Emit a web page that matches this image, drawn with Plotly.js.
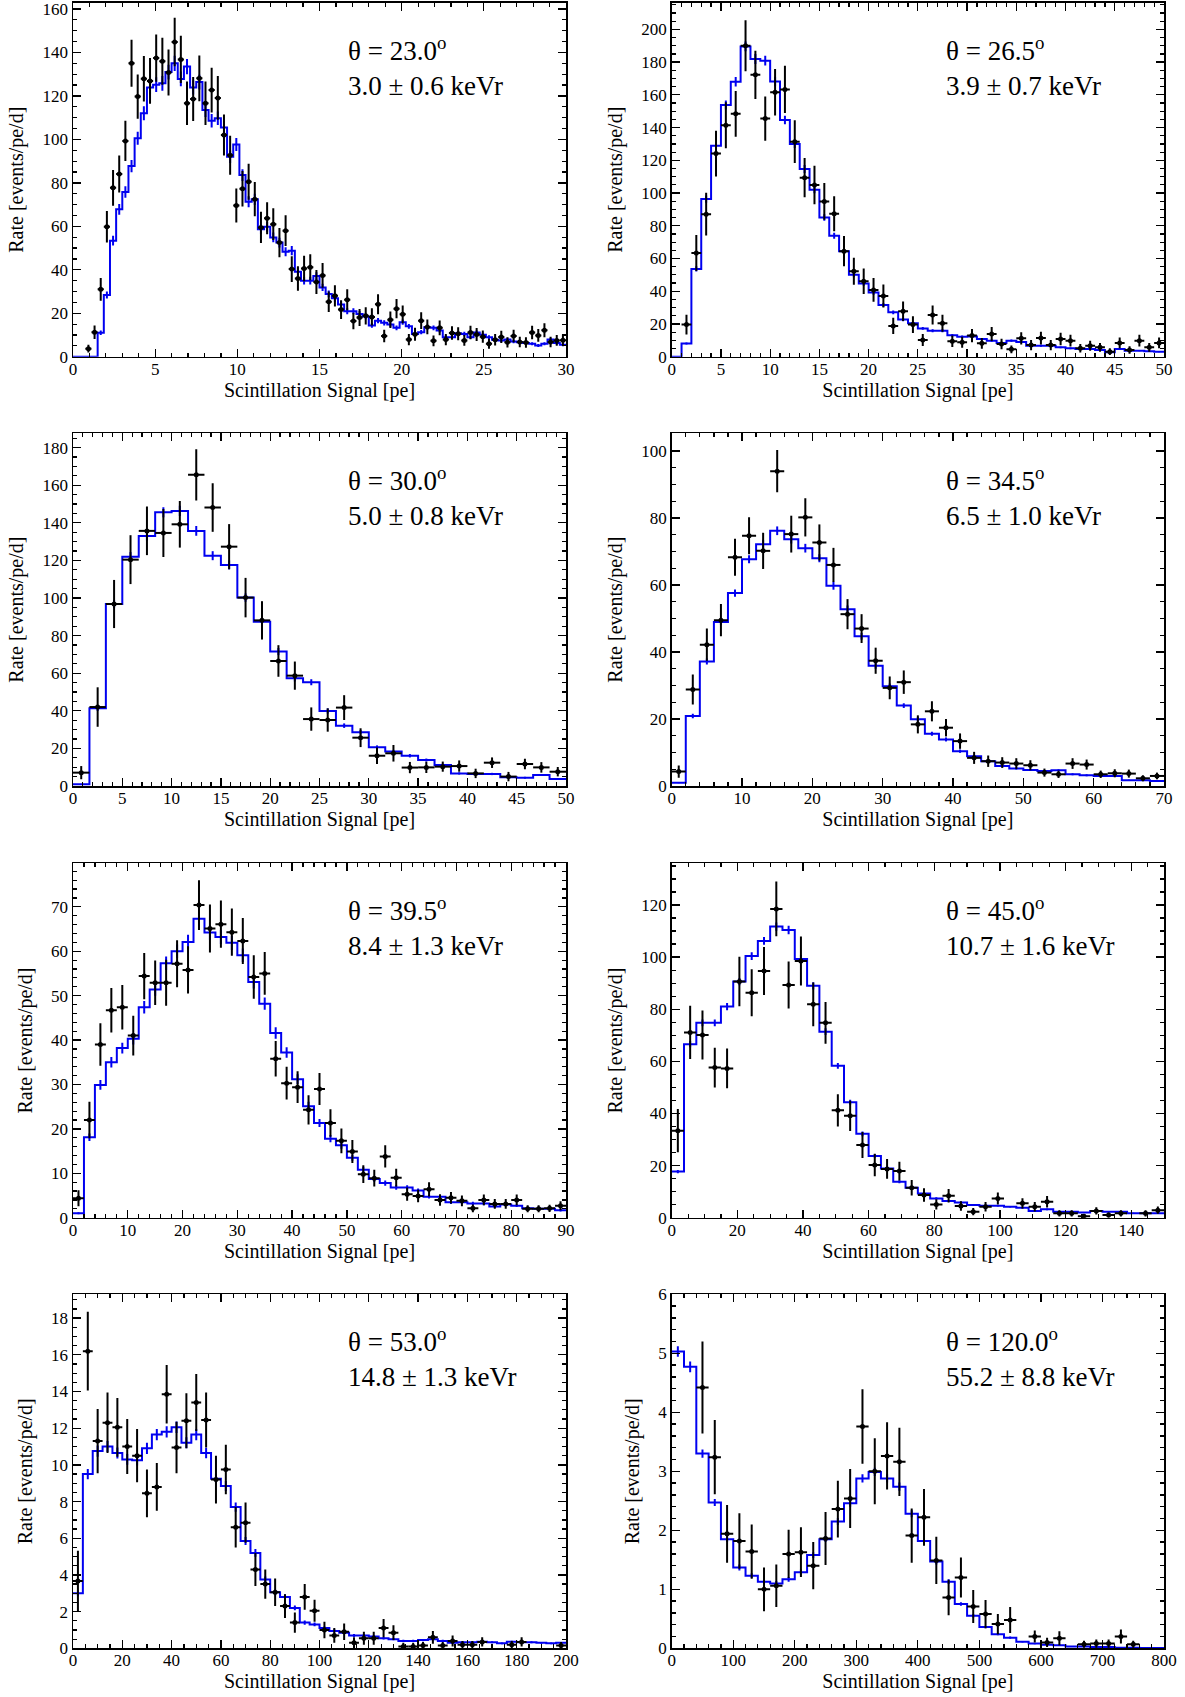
<!DOCTYPE html>
<html>
<head>
<meta charset="utf-8">
<script src="https://cdn.plot.ly/plotly-3.0.1.min.js"></script>
<style>html,body{margin:0;padding:0;background:#fff;}</style>
</head>
<body>
<div id="chart" style="width:1185px;height:1697px;"></div>
<script>
// ---------------- DATA ----------------
const angles = ['23.0', '26.5', '30.0', '34.5', '39.5', '45.0', '53.0', '120.0'];
const energies = ['3.0 ± 0.6', '3.9 ± 0.7', '5.0 ± 0.8', '6.5 ± 1.0', '8.4 ± 1.3', '10.7 ± 1.6', '14.8 ± 1.3', '55.2 ± 8.8'];
const xTitle = 'Scintillation Signal [pe]';
const yTitle = 'Rate [events/pe/d]';

// Panel 1: theta = 23.0
const p1Edges = [0, 0.375, 0.75, 1.125, 1.5, 1.875, 2.25, 2.625, 3, 3.375, 3.75, 4.125, 4.5, 4.875, 5.25, 5.625, 6, 6.375, 6.75, 7.125, 7.5, 7.875, 8.25, 8.625, 9, 9.375, 9.75, 10.125, 10.5, 10.875, 11.25, 11.625, 12, 12.375, 12.75, 13.125, 13.5, 13.875, 14.25, 14.625, 15, 15.375, 15.75, 16.125, 16.5, 16.875, 17.25, 17.625, 18, 18.375, 18.75, 19.125, 19.5, 19.875, 20.25, 20.625, 21, 21.375, 21.75, 22.125, 22.5, 22.875, 23.25, 23.625, 24, 24.375, 24.75, 25.125, 25.5, 25.875, 26.25, 26.625, 27, 27.375, 27.75, 28.125, 28.5, 28.875, 29.25, 29.625, 30];
const p1Model = [0, 0, 0, 0, 11, 28.4, 53.4, 67.8, 75.8, 87.7, 100.5, 112, 123.9, 125.2, 125.8, 131, 135, 127.8, 133.5, 123.9, 126.4, 113.5, 108.6, 109.7, 105.5, 92, 97.6, 83.6, 71.3, 72.4, 58.6, 59.8, 54.9, 52.5, 48.3, 48.8, 39.1, 35, 35, 37.1, 31.9, 28.9, 26.9, 24, 20.9, 20.9, 19.7, 18.5, 14.4, 16.6, 15.6, 14.8, 13.3, 15.9, 14, 10.4, 11.3, 13.6, 13.3, 12.1, 9, 9, 10.8, 10.5, 9, 11.1, 10.1, 9, 7.8, 7.5, 7.9, 7, 6.7, 6.3, 6, 5.2, 6, 7.9, 6.3, 5.5];
const p1ModelErr = [0, 0, 0, 0, 1.0, 1.6, 2.2, 2.5, 2.6, 2.8, 3.0, 3.2, 3.3, 3.4, 3.4, 3.4, 3.5, 3.4, 3.5, 3.3, 3.4, 3.2, 3.1, 3.1, 3.1, 2.9, 3.0, 2.7, 2.5, 2.6, 2.3, 2.3, 2.2, 2.2, 2.1, 2.1, 1.9, 1.8, 1.8, 1.8, 1.7, 1.6, 1.6, 1.5, 1.4, 1.4, 1.3, 1.3, 1.1, 1.2, 1.2, 1.2, 1.1, 1.2, 1.1, 1.0, 1.0, 1.1, 1.1, 1.0, 0.9, 0.9, 1.0, 1.0, 0.9, 1.0, 1.0, 0.9, 0.8, 0.8, 0.8, 0.8, 0.8, 0.8, 0.7, 0.7, 0.7, 0.8, 0.8, 0.7];
const p1Rate = [null, null, 3.7, 11.2, 31, 59.8, 77.7, 84.1, 99.3, 135, 119.7, 127.9, 126.9, 137.4, 136, 130.8, 144.8, 136.8, 116.6, 118.6, 128.1, 116.6, 122.7, 119.1, 102, 92.7, 69.6, 77.3, 80.5, 72.5, 59.5, 63.7, 61, 52.5, 58, 40.3, 36, 40.6, 41.2, 34.4, 37.4, 25.3, 28, 21.7, 26.2, 16.4, 18, 18.8, 18.3, 24.1, 9.5, 17, 22.1, 19.5, 7.9, 10.3, 16.6, 13.7, 7.3, 13.3, 7.9, 10.9, 10.6, 7.5, 11.1, 10.2, 9.2, 6, 7.8, 9.1, 6.6, 9.5, 6.8, 6.5, 11.1, 9.8, 12.2, 6.8, 7.5, 7.6];
const p1RateErr = [null, null, 1.8, 3.1, 5.2, 7.2, 8.2, 8.5, 9.3, 10.8, 10.2, 10.5, 10.5, 10.9, 10.8, 10.6, 11.2, 10.9, 10, 10.1, 10.5, 10, 10.3, 10.1, 9.4, 9, 7.8, 8.2, 8.3, 7.9, 7.2, 7.4, 7.3, 6.7, 7.1, 5.9, 5.6, 5.9, 6, 5.5, 5.7, 4.7, 4.9, 4.3, 4.8, 3.8, 3.9, 4, 4, 4.6, 2.9, 3.8, 4.4, 4.1, 2.6, 3, 3.8, 3.4, 2.5, 3.4, 2.6, 3.1, 3, 2.5, 3.1, 3, 2.8, 2.3, 2.6, 2.8, 2.4, 2.9, 2.4, 2.4, 3.1, 2.9, 3.2, 2.4, 2.5, 2.6];

// Panel 2: theta = 26.5
const p2Edges = [0, 1, 2, 3, 4, 5, 6, 7, 8, 9, 10, 11, 12, 13, 14, 15, 16, 17, 18, 19, 20, 21, 22, 23, 24, 25, 26, 27, 28, 29, 30, 31, 32, 33, 34, 35, 36, 37, 38, 39, 40, 41, 42, 43, 44, 45, 46, 47, 48, 49, 50];
const p2Model = [0, 8.1, 53.6, 96.3, 128.9, 153.8, 168, 189.6, 181.9, 180.9, 168.2, 144.6, 130, 114.7, 102, 85.1, 73.9, 64.4, 50.1, 44.8, 39.3, 31.6, 27.1, 22.7, 20.4, 17.3, 15.9, 15.9, 13.1, 12.2, 12.4, 10.8, 9.8, 8.4, 9.8, 9, 6.7, 6.7, 6.7, 5.7, 5.1, 4.7, 4.7, 4.1, 2.7, 4.7, 3.7, 3.7, 3.3, 3.1];
const p2ModelErr = [0, 0.6, 1.6, 2.2, 2.5, 2.7, 2.9, 3.0, 3.0, 3.0, 2.9, 2.6, 2.5, 2.4, 2.2, 2.0, 1.9, 1.8, 1.6, 1.5, 1.4, 1.2, 1.1, 1.0, 1.0, 0.9, 0.9, 0.9, 0.8, 0.8, 0.8, 0.7, 0.7, 0.6, 0.7, 0.7, 0.6, 0.6, 0.6, 0.5, 0.5, 0.5, 0.5, 0.4, 0.4, 0.5, 0.4, 0.4, 0.4, 0.4];
const p2Rate = [null, 19.6, 63.3, 87.1, 124.1, 141.4, 148.4, 190, 172.2, 145.5, 161.6, 163.3, 131.4, 109.4, 104.9, 94.9, 87.3, 64.5, 52.2, 46.1, 40.8, 37.1, 18.8, 27.8, 19.6, 10.2, 25.5, 20.4, 9.4, 8.8, 12.9, 8.2, 13.9, 7.8, 4.5, 11.2, 7.1, 11.4, 7.1, 10.8, 9.8, 5.1, 6.7, 5.7, 3.1, 8.4, 4.1, 9.8, 5.7, 8.4];
const p2RateErr = [null, 6, 11, 13, 14, 14, 14, 15.6, 14.8, 13.5, 14.2, 14.4, 13, 12, 11.7, 11.2, 10.7, 9.2, 8.3, 7.8, 7.3, 7, 5, 6, 5.1, 3.7, 5.8, 5.2, 3.5, 3.4, 4.1, 3.3, 4.3, 3.2, 2.4, 3.8, 3.1, 3.9, 3.1, 3.8, 3.6, 2.6, 3, 2.7, 2, 3.3, 2.3, 3.6, 2.7, 3.3];

// Panel 3: theta = 30.0
const p3Edges = [0, 1.667, 3.333, 5, 6.667, 8.333, 10, 11.667, 13.333, 15, 16.667, 18.333, 20, 21.667, 23.333, 25, 26.667, 28.333, 30, 31.667, 33.333, 35, 36.667, 38.333, 40, 41.667, 43.333, 45, 46.667, 48.333, 50];
const p3Model = [0.9, 41.3, 96.8, 122, 133, 145.6, 146.3, 135.7, 122.5, 117.6, 100.2, 87.4, 71.5, 57.3, 55.2, 39.9, 32.1, 28.6, 20.6, 18.3, 16.1, 13.8, 11.2, 6.7, 6.4, 6.4, 4.6, 4.4, 5.9, 3.7];
const p3ModelErr = [0.2, 1.4, 2.2, 2.4, 2.5, 2.7, 2.7, 2.6, 2.4, 2.4, 2.2, 2.1, 1.9, 1.7, 1.6, 1.4, 1.2, 1.2, 1.0, 0.9, 0.9, 0.8, 0.7, 0.6, 0.6, 0.6, 0.5, 0.5, 0.5, 0.4];
const p3Rate = [7.1, 42, 96.8, 120.4, 135.7, 134.6, 139.2, 165.5, 148.1, 127.3, 100.2, 88.1, 66.5, 58.7, 35.6, 35.1, 41.7, 25.7, 16.1, 17.4, 9.8, 9.9, 10.3, 10.6, 6.7, 12.4, 5, 11.7, 9.9, 7.6];
const p3RateErr = [3.5, 10.5, 12.8, 13, 12.9, 12.8, 12.4, 13.6, 12.9, 12, 10.5, 10.2, 8.4, 7.5, 6.2, 6.2, 6.6, 5, 4.4, 4.4, 3, 3, 2.7, 3, 2.5, 2.8, 2.5, 2.8, 2.8, 2.5];

// Panel 4: theta = 34.5
const p4Edges = [0, 2, 4, 6, 8, 10, 12, 14, 16, 18, 20, 22, 24, 26, 28, 30, 32, 34, 36, 38, 40, 42, 44, 46, 48, 50, 52, 54, 56, 58, 60, 62, 64, 66, 68, 70];
const p4Model = [1, 20.9, 37.2, 49, 57.6, 67.7, 72.2, 76.2, 73.7, 71, 68, 59.8, 52.8, 44.7, 35.9, 29.8, 24, 19.9, 15.6, 13.9, 10.4, 8.9, 7.4, 6, 5.2, 4.8, 4.5, 4.7, 3.5, 3.2, 3, 3, 1.7, 1.7, 1.5];
const p4ModelErr = [0.15, 0.7, 0.9, 1.0, 1.1, 1.2, 1.3, 1.3, 1.3, 1.3, 1.2, 1.2, 1.1, 1.0, 0.9, 0.8, 0.7, 0.7, 0.6, 0.6, 0.5, 0.4, 0.4, 0.4, 0.3, 0.3, 0.3, 0.3, 0.3, 0.3, 0.3, 0.3, 0.2, 0.2, 0.2];
const p4Rate = [4.3, 28.8, 42.2, 49.5, 68.3, 74.7, 70.2, 94, 75.2, 80.2, 72.7, 66, 51.3, 47, 37.4, 29.3, 31, 18.4, 22.3, 17.4, 13.4, 8.4, 7.4, 7, 6.7, 6.2, 4, 3.5, 6.7, 6.4, 3.5, 3.8, 3.7, 2.3, 3];
const p4RateErr = [1.8, 4.5, 4.8, 4.8, 5.5, 5.5, 5.4, 6.3, 5.5, 5.7, 5.4, 5.1, 4.5, 4.3, 3.9, 3.4, 3.5, 2.7, 3, 2.6, 2.3, 1.8, 1.7, 1.6, 1.6, 1.5, 1.2, 1.1, 1.6, 1.5, 1.1, 1.2, 1.2, 0.9, 1];

// Panel 5: theta = 39.5
const p5Edges = [0, 2, 4, 6, 8, 10, 12, 14, 16, 18, 20, 22, 24, 26, 28, 30, 32, 34, 36, 38, 40, 42, 44, 46, 48, 50, 52, 54, 56, 58, 60, 62, 64, 66, 68, 70, 72, 74, 76, 78, 80, 82, 84, 86, 88, 90];
const p5Model = [1, 18.1, 29.9, 35, 38.2, 40.3, 47.4, 51.4, 57.3, 60, 62.1, 67.3, 64.2, 63.2, 61.9, 59.1, 53.1, 48.2, 41.6, 37.2, 31.2, 25.1, 21.3, 17.8, 16.3, 13.5, 10.8, 8.7, 7.8, 6.8, 6.8, 6.1, 4.7, 4.7, 3.5, 3.5, 3.2, 3.2, 2.5, 3, 2.7, 2.1, 2, 2, 1.7];
const p5ModelErr = [0.2, 0.85, 1.1, 1.2, 1.2, 1.3, 1.4, 1.4, 1.5, 1.5, 1.6, 1.6, 1.6, 1.6, 1.6, 1.5, 1.5, 1.4, 1.3, 1.2, 1.1, 1.0, 0.9, 0.8, 0.8, 0.7, 0.7, 0.6, 0.6, 0.5, 0.5, 0.5, 0.4, 0.4, 0.4, 0.4, 0.4, 0.4, 0.3, 0.3, 0.3, 0.3, 0.3, 0.3, 0.3];
const p5Rate = [4.4, 22, 39, 46.7, 47.4, 41, 54.4, 52.9, 52.9, 57.2, 55.8, 70.4, 65.1, 66.1, 64.3, 62.3, 54.2, 55, 35.8, 30.3, 29.4, 24.3, 29, 21.3, 17.3, 14.9, 9.8, 8.9, 13.8, 9, 5.3, 4.9, 6.4, 4, 4.5, 3.8, 2.1, 4, 3.1, 3.1, 4, 2, 2, 2.1, 2.7];
const p5RateErr = [1.8, 4.1, 4.8, 5, 5, 4.5, 5.2, 5, 5.2, 5.3, 5.3, 5.6, 5.4, 5.3, 5.3, 5.2, 4.9, 4.8, 4, 3.7, 3.6, 3.3, 3.6, 3.1, 2.8, 2.6, 2, 1.9, 2.5, 2, 1.5, 1.4, 1.6, 1.3, 1.3, 1.2, 0.9, 1.2, 1.1, 1.1, 1.2, 0.8, 0.8, 0.8, 1];

// Panel 6: theta = 45.0
const p6Edges = [0, 3.75, 7.5, 11.25, 15, 18.75, 22.5, 26.25, 30, 33.75, 37.5, 41.25, 45, 48.75, 52.5, 56.25, 60, 63.75, 67.5, 71.25, 75, 78.75, 82.5, 86.25, 90, 93.75, 97.5, 101.25, 105, 108.75, 112.5, 116.25, 120, 123.75, 127.5, 131.25, 135, 138.75, 142.5, 146.25, 150];
const p6Model = [17.7, 66.6, 74.8, 74.8, 81, 90.6, 100.4, 106.2, 111.7, 110.4, 99.3, 89, 71.4, 58.3, 44.3, 32.2, 23.7, 18.9, 13.8, 11.5, 9.3, 7.4, 6.4, 5.8, 4.9, 4.6, 4.6, 4.2, 3.8, 2.6, 3.2, 2.3, 2.3, 2, 2.6, 2.3, 2.3, 1.7, 1.7, 1.7];
const p6ModelErr = [0.6, 1.2, 1.3, 1.3, 1.4, 1.4, 1.5, 1.5, 1.6, 1.6, 1.5, 1.4, 1.3, 1.1, 1.0, 0.9, 0.7, 0.7, 0.6, 0.5, 0.5, 0.4, 0.4, 0.4, 0.3, 0.3, 0.3, 0.3, 0.3, 0.2, 0.3, 0.2, 0.2, 0.2, 0.2, 0.2, 0.2, 0.2, 0.2, 0.2];
const p6Rate = [33.4, 71.1, 70.1, 57.6, 57.3, 90.6, 86.3, 94.7, 118.5, 89.3, 98.5, 81.9, 74.8, 41.2, 39.1, 27.9, 20.2, 18.7, 17.9, 11.5, 8.7, 5.1, 8.4, 4.5, 2.3, 4.2, 7.4, null, 5.5, 4.2, 6.1, 1.7, 1.7, 0.6, 2.6, 1, 1.7, null, 1.7, 2.9];
const p6RateErr = [8.3, 10.2, 9.4, 7.6, 7.6, 9.5, 9, 9.2, 10.5, 9, 9.4, 8.4, 8, 6.2, 5.8, 5, 4.3, 3.8, 3.6, 3, 2.6, 2, 2.6, 1.8, 1.4, 1.8, 2.3, null, 2, 1.8, 2.2, 1.2, 1.2, 0.8, 1.4, 1, 1.2, null, 1.2, 1.4];

// Panel 7: theta = 53.0
const p7Edges = [0, 4, 8, 12, 16, 20, 24, 28, 32, 36, 40, 44, 48, 52, 56, 60, 64, 68, 72, 76, 80, 84, 88, 92, 96, 100, 104, 108, 112, 116, 120, 124, 128, 132, 136, 140, 144, 148, 152, 156, 160, 164, 168, 172, 176, 180, 184, 188, 192, 196, 200];
const p7Model = [3, 9.5, 10.75, 11, 10.65, 10.3, 10.25, 10.9, 11.65, 11.8, 12.05, 11.2, 11.65, 10.65, 9.25, 8.85, 7.7, 5.85, 5.2, 3.75, 3.05, 2.8, 2.2, 1.4, 1.3, 1.1, 0.95, 0.85, 0.7, 0.7, 0.65, 0.55, 0.5, 0.4, 0.4, 0.45, 0.5, 0.4, 0.3, 0.33, 0.33, 0.36, 0.33, 0.27, 0.36, 0.33, 0.33, 0.3, 0.27, 0.3];
const p7ModelErr = [0.16, 0.28, 0.3, 0.3, 0.3, 0.29, 0.29, 0.3, 0.31, 0.31, 0.31, 0.3, 0.31, 0.29, 0.27, 0.27, 0.25, 0.22, 0.21, 0.17, 0.16, 0.15, 0.13, 0.11, 0.1, 0.09, 0.09, 0.08, 0.08, 0.08, 0.07, 0.07, 0.06, 0.06, 0.06, 0.06, 0.06, 0.06, 0.05, 0.05, 0.05, 0.05, 0.05, 0.05, 0.05, 0.05, 0.05, 0.05, 0.05, 0.05];
const p7Rate = [3.67, 16.2, 11.3, 12.3, 12.05, 11, 10.5, 8.45, 8.8, 13.85, 10.95, 12.4, 13.4, 12.45, 9.2, 9.75, 6.6, 6.85, 4.3, 3.5, 3.05, 2.3, 1.4, 2.8, 2.05, 1, 0.7, 0.9, 0.3, 0.55, 0.55, 1.1, 0.85, 0.1, 0.1, 0.15, 0.6, 0.15, 0.4, 0.2, 0.2, 0.35, null, null, 0.2, 0.35, null, null, null, 0.15];
const p7RateErr = [1.65, 2.15, 1.75, 1.65, 1.6, 1.5, 1.45, 1.3, 1.3, 1.6, 1.4, 1.5, 1.55, 1.5, 1.3, 1.35, 1.1, 1.1, 0.9, 0.8, 0.75, 0.65, 0.55, 0.7, 0.6, 0.45, 0.4, 0.45, 0.3, 0.35, 0.35, 0.5, 0.4, 0.2, 0.2, 0.2, 0.35, 0.2, 0.3, 0.2, 0.2, 0.25, null, null, 0.2, 0.25, null, null, null, 0.2];

// Panel 8: theta = 120.0
const p8Edges = [0, 20, 40, 60, 80, 100, 120, 140, 160, 180, 200, 220, 240, 260, 280, 300, 320, 340, 360, 380, 400, 420, 440, 460, 480, 500, 520, 540, 560, 580, 600, 620, 640, 660, 680, 700, 720, 740, 760, 780, 800];
const p8Model = [5.03, 4.77, 3.3, 2.47, 1.85, 1.37, 1.23, 1.13, 1.1, 1.17, 1.29, 1.58, 1.85, 2.15, 2.46, 2.88, 2.99, 2.88, 2.74, 2.28, 1.82, 1.47, 1.13, 0.75, 0.55, 0.36, 0.24, 0.18, 0.11, 0.08, 0.06, 0.05, 0.03, 0.03, 0.02, 0.02, 0.01, 0.01, 0.005, 0.005];
const p8ModelErr = [0.09, 0.09, 0.07, 0.06, 0.05, 0.05, 0.04, 0.04, 0.04, 0.04, 0.05, 0.05, 0.05, 0.06, 0.06, 0.07, 0.07, 0.07, 0.07, 0.06, 0.05, 0.05, 0.04, 0.03, 0.03, 0.02, 0.02, 0.02, 0.01, 0.01, 0.01, 0.01, 0.01, 0.01, 0.01, 0.01, 0.01, 0.01, 0.01, 0.01];
const p8Rate = [null, null, 4.42, 3.24, 1.94, 1.82, 1.64, 1.0, 1.06, 1.6, 1.63, 1.4, 1.86, 2.36, 2.54, 3.76, 3.0, 3.26, 3.16, 1.91, 2.22, 1.49, 0.86, 1.2, 0.71, 0.58, 0.41, 0.48, null, 0.2, 0.1, 0.17, null, 0.07, 0.08, 0.08, 0.2, 0.07, null, null];
const p8RateErr = [null, null, 0.78, 0.63, 0.49, 0.47, 0.46, 0.37, 0.36, 0.41, 0.42, 0.4, 0.45, 0.48, 0.5, 0.63, 0.56, 0.57, 0.58, 0.46, 0.48, 0.4, 0.3, 0.34, 0.28, 0.24, 0.17, 0.22, null, 0.1, 0.08, 0.12, null, 0.06, 0.07, 0.07, 0.12, 0.06, null, null];

// ---------------- DRAWING ----------------
const panels = [
  {edges: p1Edges, model: p1Model, modelErr: p1ModelErr, rate: p1Rate, rateErr: p1RateErr},
  {edges: p2Edges, model: p2Model, modelErr: p2ModelErr, rate: p2Rate, rateErr: p2RateErr},
  {edges: p3Edges, model: p3Model, modelErr: p3ModelErr, rate: p3Rate, rateErr: p3RateErr},
  {edges: p4Edges, model: p4Model, modelErr: p4ModelErr, rate: p4Rate, rateErr: p4RateErr},
  {edges: p5Edges, model: p5Model, modelErr: p5ModelErr, rate: p5Rate, rateErr: p5RateErr},
  {edges: p6Edges, model: p6Model, modelErr: p6ModelErr, rate: p6Rate, rateErr: p6RateErr},
  {edges: p7Edges, model: p7Model, modelErr: p7ModelErr, rate: p7Rate, rateErr: p7RateErr},
  {edges: p8Edges, model: p8Model, modelErr: p8ModelErr, rate: p8Rate, rateErr: p8RateErr}
];

const FONT = 'Liberation Serif, Times New Roman, serif';
const BLUE = '#0000f0';
const W = 1185, H = 1697;

// axis settings (layout): ranges, major / minor tick spacing
const axisCfg = [
  {xr: [0, 30],  xd: 5,   xm: 1,  yr: [0, 162.9], yd: 20, ym: 5},
  {xr: [0, 50],  xd: 5,   xm: 1,  yr: [0, 216.3], yd: 20, ym: 5},
  {xr: [0, 50],  xd: 5,   xm: 1,  yr: [0, 187.6], yd: 20, ym: 5},
  {xr: [0, 70],  xd: 10,  xm: 2,  yr: [0, 105.3], yd: 20, ym: 5},
  {xr: [0, 90],  xd: 10,  xm: 2,  yr: [0, 79.8],  yd: 10, ym: 2},
  {xr: [0, 150], xd: 20,  xm: 5,  yr: [0, 136],   yd: 20, ym: 5},
  {xr: [0, 200], xd: 20,  xm: 5,  yr: [0, 19.3],  yd: 2,  ym: 0.5},
  {xr: [0, 800], xd: 100, xm: 20, yr: [0, 6],     yd: 1,  ym: 0.2}
];

// plot-area pixel boxes
const colX = [[73, 566], [671.7, 1164]];
const rowY = [[2.7, 356.7], [433.3, 786], [863.3, 1217.7], [1294.3, 1648.3]];

const traces = [];
const layout = {
  width: W, height: H,
  margin: {l: 0, r: 0, t: 0, b: 0, pad: 0},
  paper_bgcolor: '#fff', plot_bgcolor: '#fff',
  showlegend: false,
  font: {family: FONT, color: '#000'},
  annotations: []
};

panels.forEach((p, i) => {
  const n = i + 1;
  const xa = n === 1 ? 'x' : 'x' + n;
  const ya = n === 1 ? 'y' : 'y' + n;
  const centers = p.edges.slice(0, -1).map((e, j) => (e + p.edges[j + 1]) / 2);
  const halfW = p.edges.slice(0, -1).map((e, j) => (p.edges[j + 1] - e) / 2);

  // model histogram (step line)
  traces.push({
    type: 'scatter', mode: 'lines', xaxis: xa, yaxis: ya,
    x: p.edges, y: p.model.concat([p.model[p.model.length - 1]]),
    line: {shape: 'hv', color: BLUE, width: 2}, hoverinfo: 'skip'
  });
  // model uncertainties at bin centres
  traces.push({
    type: 'scatter', mode: 'markers', xaxis: xa, yaxis: ya,
    x: centers, y: p.model,
    marker: {size: 1, color: BLUE, opacity: 0},
    error_y: {type: 'data', array: p.modelErr, visible: true, color: BLUE, thickness: 2, width: 0},
    hoverinfo: 'skip'
  });
  // measured data
  const dx = [], dy = [], ey = [], ex = [];
  p.rate.forEach((v, j) => {
    if (v !== null) { dx.push(centers[j]); dy.push(v); ey.push(p.rateErr[j]); ex.push(halfW[j]); }
  });
  traces.push({
    type: 'scatter', mode: 'markers', xaxis: xa, yaxis: ya,
    x: dx, y: dy,
    marker: {size: 5, color: '#000', symbol: 'circle'},
    error_y: {type: 'data', array: ey, visible: true, color: '#000', thickness: 2, width: 0},
    error_x: {type: 'data', array: ex, visible: true, color: '#000', thickness: 2, width: 0}
  });

  const col = i % 2, row = Math.floor(i / 2);
  const c = axisCfg[i];
  const common = {
    showline: true, linecolor: '#000', linewidth: 1.5, mirror: 'allticks',
    ticks: 'inside', ticklen: 8, tickwidth: 1.3, tickcolor: '#000',
    showgrid: false, zeroline: false, tick0: 0,
    ticklabeloverflow: 'allow',
    tickfont: {family: FONT, size: 17, color: '#000'},
    fixedrange: true
  };
  layout['xaxis' + (n === 1 ? '' : n)] = Object.assign({}, common, {
    domain: [colX[col][0] / W, colX[col][1] / W],
    anchor: ya, range: c.xr, dtick: c.xd,
    ticklabelstandoff: -4,
    minor: {dtick: c.xm, ticks: 'inside', ticklen: 4, tickwidth: 1.2, tickcolor: '#000', showgrid: false},
    title: {text: xTitle, font: {family: FONT, size: 20, color: '#000'}, standoff: 4}
  });
  layout['yaxis' + (n === 1 ? '' : n)] = Object.assign({}, common, {
    domain: [1 - rowY[row][1] / H, 1 - rowY[row][0] / H],
    anchor: xa, range: c.yr, dtick: c.yd,
    minor: {dtick: c.ym, ticks: 'inside', ticklen: 4, tickwidth: 1.2, tickcolor: '#000', showgrid: false},
    title: {text: yTitle, font: {family: FONT, size: 20, color: '#000'}, standoff: 13}
  });
  layout.annotations.push({
    xref: xa + ' domain', yref: ya + ' domain',
    x: 0.5535, y: 0.821, xanchor: 'left', yanchor: 'middle', align: 'left',
    showarrow: false,
    text: 'θ = ' + angles[i] + '<sup>o</sup><br>' + energies[i] + ' keVr',
    font: {family: FONT, size: 27, color: '#000'}
  });
});

Plotly.newPlot('chart', traces, layout, {displayModeBar: false, staticPlot: true});
</script>
</body>
</html>
